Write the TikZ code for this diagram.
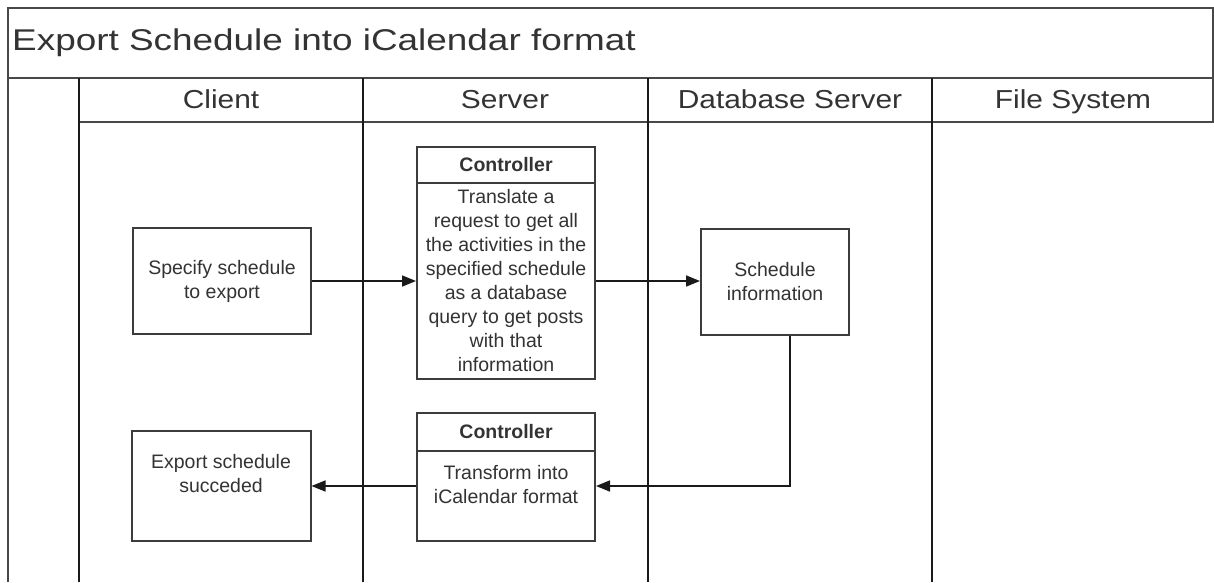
\documentclass[tikz,border=0pt]{standalone}
\usepackage{fontspec}
\setmainfont{Liberation Sans}
\newfontfamily\widefont{Liberation Sans}[FakeStretch=1.15]
\newfontfamily\titlefont{Liberation Sans}[FakeStretch=1.23]
\usetikzlibrary{arrows.meta,calc}
\definecolor{txt}{HTML}{333333}
\definecolor{ln}{HTML}{1A1A1A}
\tikzset{
  frameline/.style={line width=2pt,draw=ln!80},
  laneline/.style={line width=2pt,draw=ln},
  boxstyle/.style={draw=ln!85,line width=2pt,fill=white,text=txt,align=center,
    font=\fontsize{19.5}{24}\selectfont,inner sep=0pt},
  headbox/.style={boxstyle,font=\bfseries\fontsize{19.5}{24}\selectfont},
  arr/.style={line width=1.6pt,draw=ln,-{Triangle[length=14pt,width=11pt]}},
  lanetitle/.style={text=txt,font=\widefont\fontsize{26}{30}\selectfont,inner sep=0pt}
}
\begin{document}
\begin{tikzpicture}[x=1pt,y=-1pt]
\useasboundingbox (0,0) rectangle (1214,582);
\fill[white] (0,0) rectangle (1214,582);
% frame
\draw[frameline] (8,582) -- (8,8) -- (1213,8) -- (1213,122);
\draw[frameline] (8,78) -- (1214,78);
\draw[frameline] (79,122) -- (1214,122);
\draw[laneline] (79,78) -- (79,582);
\draw[laneline] (363,78) -- (363,582);
\draw[laneline] (648,78) -- (648,582);
\draw[laneline] (932,78) -- (932,582);
% titles
\node[lanetitle,anchor=base west,font=\titlefont\fontsize{30}{33}\selectfont] (title) at (12,50) {Export Schedule into iCalendar format};
\node[lanetitle,anchor=base] (lclient) at (221,108) {Client};
\node[lanetitle,anchor=base] (lserver) at (505,108) {Server};
\node[lanetitle,anchor=base] (ldb) at (790,108) {Database Server};
\node[lanetitle,anchor=base] (lfs) at (1073,108) {File System};
% boxes
\node[boxstyle,minimum width=178,minimum height=106] (spec) at (222,281) {Specify schedule\\to export};
\node[boxstyle,minimum width=179,minimum height=110] (exp) at (221,486) {Export schedule\\succeded\\[2pt]};
\node[headbox,minimum width=178,minimum height=36] (c1h) at (506,165) {Controller};
\node[boxstyle,minimum width=178,minimum height=196] (c1b) at (506,281) {Translate a\\request to get all\\the activities in the\\specified schedule\\as a database\\query to get posts\\with that\\information};
\node[headbox,minimum width=178,minimum height=38] (c2h) at (506,432) {Controller};
\node[boxstyle,minimum width=178,minimum height=90] (c2b) at (506,496) {Transform into\\iCalendar format\\~};
\node[boxstyle,minimum width=148,minimum height=106] (db) at (775,282) {Schedule\\information};
% connectors
\draw[arr] (spec.east) -- (spec.east -| c1b.west);
\draw[arr] (c1b.east) -- (c1b.east -| db.west);
\draw[arr] ([xshift=15pt]db.south) |- (c2b.east |- exp.east);
\draw[arr] (c2b.west |- exp.east) -- (exp.east);
\end{tikzpicture}
\end{document}
